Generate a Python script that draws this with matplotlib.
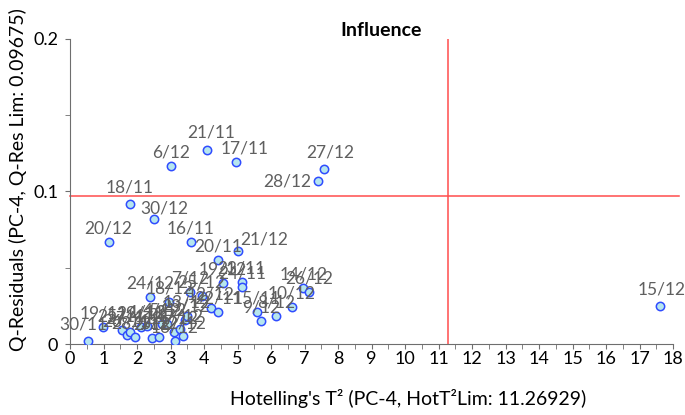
"""Influence plot: Q-residuals vs Hotelling's T2 (PC-4)."""
import numpy as np
import matplotlib
matplotlib.use("Agg")
import matplotlib.pyplot as plt
from matplotlib.ticker import MultipleLocator

plt.rcParams.update({"font.family": ["Lato", "DejaVu Sans"], "font.size": 11})

T2_LIM = 11.26929
Q_LIM = 0.09675

# Hotelling's T2, Q-residuals and day labels
hot_t2 = [3.01, 4.08, 4.97, 7.59, 7.41, 1.79, 2.52, 1.15, 3.60, 5.00, 4.41, 17.61,
          0.55, 0.99, 1.54, 1.69, 1.79, 1.94, 2.11, 2.31, 2.39, 2.44, 2.66, 2.74,
          2.90, 2.96, 3.11, 3.13, 3.28, 3.36, 3.43, 3.48, 3.58, 3.93, 4.21, 4.41,
          4.56, 5.12, 5.14, 5.57, 5.71, 6.15, 6.62, 6.97, 7.13]
q_res = [0.117, 0.127, 0.1196, 0.115, 0.107, 0.092, 0.082, 0.067, 0.067, 0.061, 0.055, 0.0249,
         0.002, 0.0114, 0.0092, 0.0059, 0.0077, 0.0048, 0.0114, 0.0118, 0.031, 0.0041, 0.0044, 0.0129,
         0.0129, 0.0278, 0.0077, 0.002, 0.0096, 0.005, 0.0157, 0.0186, 0.0339, 0.0317, 0.0238, 0.0208,
         0.0398, 0.0409, 0.0376, 0.0212, 0.0149, 0.0182, 0.0245, 0.0367, 0.0339]
days = ["6/12", "21/11", "17/11", "27/12", "28/12", "18/11", "30/12", "20/12", "16/11", "21/12", "20/11", "15/12",
        "30/11", "19/11", "25/11", "26/11", "27/11", "28/11", "29/11", "1/12", "24/12", "2/12", "3/12", "4/12",
        "5/12", "18/12", "11/12", "16/12", "17/12", "22/12", "23/12", "13/12", "7/12", "25/12", "12/12", "22/11",
        "19/12", "23/11", "24/11", "15/11", "9/12", "8/12", "10/12", "14/12", "26/12"]

# label nudges (points) for the ones not sitting straight above their marker
nudge = {"28/12": (-5, -4, "right"), "30/12": (7, 4, "center"), "21/12": (19, 5, "center"),
         "27/12": (4, 8, "center"), "17/11": (6, 6, "center"), "21/11": (3, 9, "center"),
         "18/11": (0, 8, "center"), "15/12": (1, 8, "center"), "30/11": (-4, 8, "center")}

fig = plt.figure(figsize=(6.85, 4.15), dpi=100)
ax = fig.add_axes([70 / 685, 1 - 344 / 415, 603 / 685, 305 / 415])

ax.axvline(T2_LIM, color="#ff4d4d", lw=1.1, zorder=1)
ax.axhline(Q_LIM, color="#ff4d4d", lw=1.1, zorder=1, xmax=1.01, clip_on=False)
ax.scatter(hot_t2, q_res, s=36, facecolor="#b6e6ee", edgecolor="#2f4cff",
           linewidth=1.1, zorder=3)
for x, y, d in zip(hot_t2, q_res, days):
    dx, dy, ha = nudge.get(d, (0, 6, "center"))
    ax.annotate(d, (x, y), xytext=(dx, dy), textcoords="offset points",
                ha=ha, va="baseline", fontsize=12.5, color="#5f5f5f", zorder=4)

ax.set_xlim(0, 18)
ax.set_ylim(0, 0.2)
ax.xaxis.set_major_locator(MultipleLocator(1))
ax.xaxis.set_minor_locator(MultipleLocator(0.5))
ax.yaxis.set_major_locator(MultipleLocator(0.1))
ax.yaxis.set_minor_locator(MultipleLocator(0.05))
ax.yaxis.set_major_formatter(plt.FuncFormatter(lambda v, p: "0" if v == 0 else f"{v:.1f}"))
for s in ("top", "right"):
    ax.spines[s].set_visible(False)
for s in ("left", "bottom"):
    ax.spines[s].set_color("#6e6e6e")
ax.tick_params(which="both", length=3.5, color="#6e6e6e", labelsize=13)
ax.tick_params(axis="x", pad=1.5)
ax.tick_params(axis="y", pad=5)

fig.text(381 / 685, 1 - 31 / 415, "Influence", ha="center", va="center",
         fontsize=14, fontweight="bold")
fig.text(408 / 685, 1 - 398 / 415, "Hotelling's T\u00b2 (PC-4, HotT\u00b2Lim: 11.26929)",
         ha="center", va="center", fontsize=14)
fig.text(18 / 685, 1 - 180 / 415, "Q-Residuals (PC-4, Q-Res Lim: 0.09675)",
         ha="center", va="center", rotation=90, fontsize=14)

fig.savefig("out.png", dpi=100)
